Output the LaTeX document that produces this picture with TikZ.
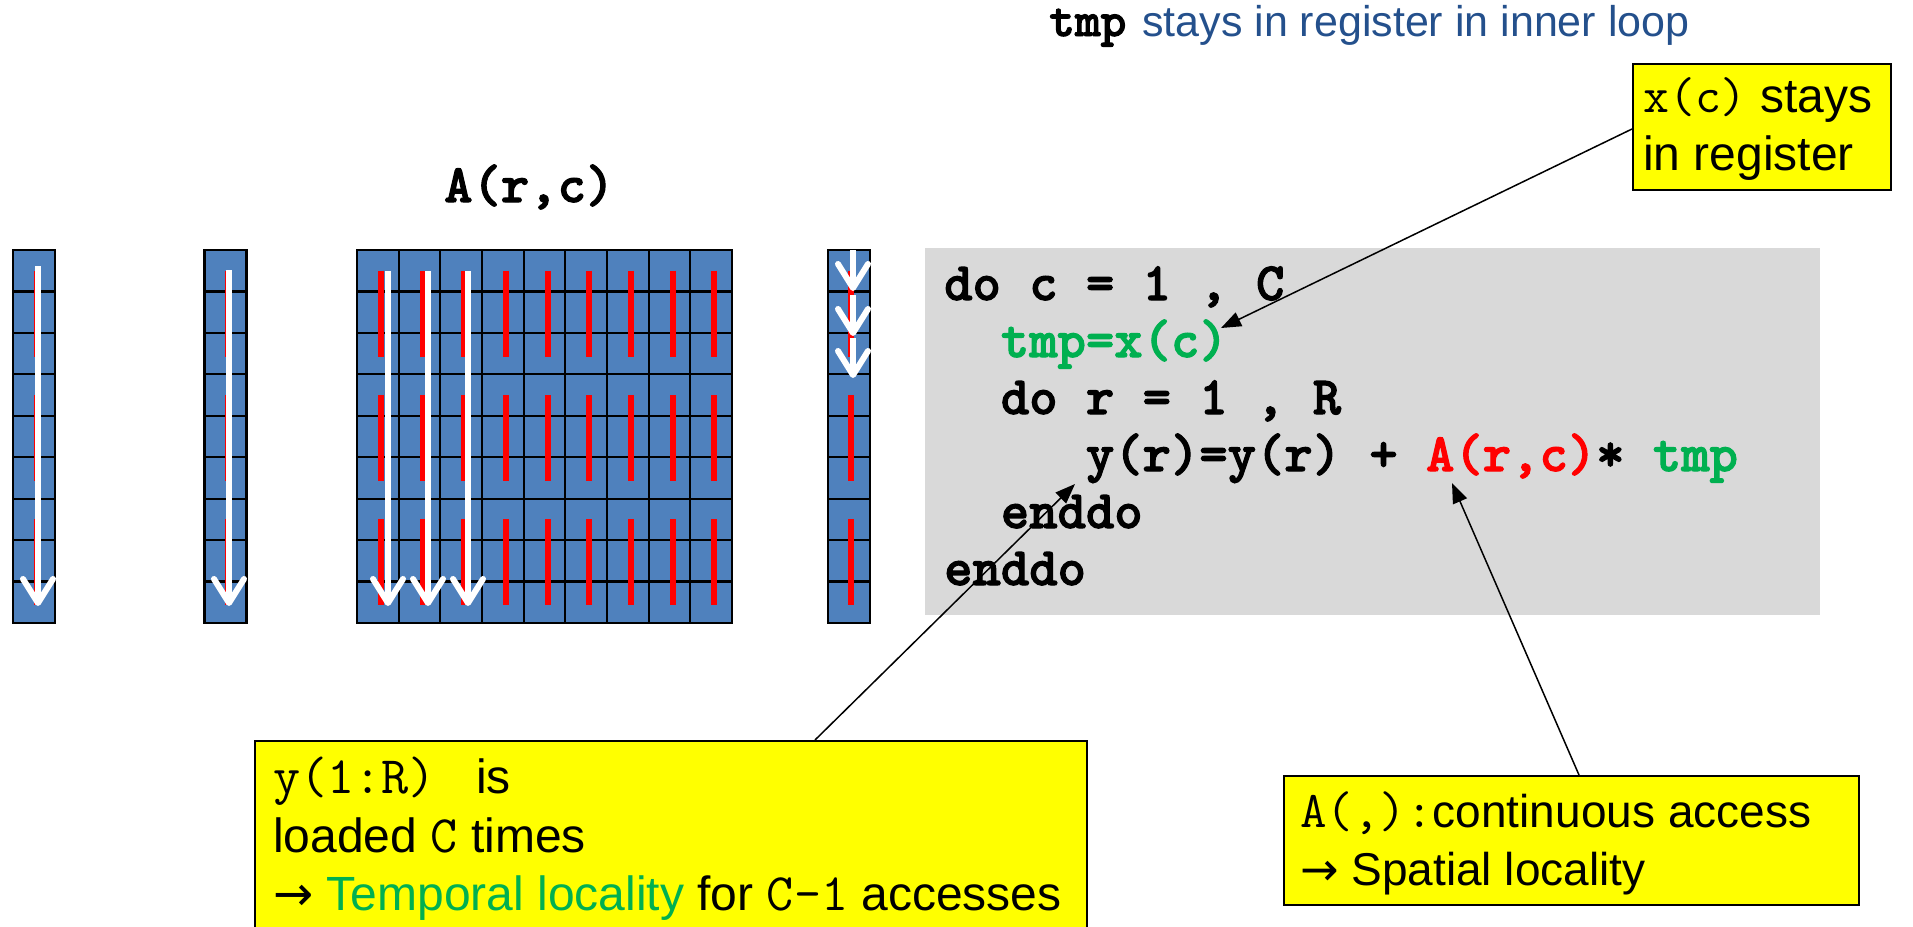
\documentclass[tikz,border=0pt]{standalone}
\usepackage{fontspec}
\setmainfont{Liberation Sans}
\newfontfamily\codeB{lmmonolt10-bold.otf}[FakeBold=2]
\newfontfamily\arrowF{DejaVu Sans}
\usetikzlibrary{arrows.meta,calc}
\definecolor{cellblue}{HTML}{4F81BD}
\definecolor{codegray}{HTML}{D9D9D9}
\definecolor{okgreen}{HTML}{00B050}
\definecolor{hlyellow}{HTML}{FFFF00}
\definecolor{titleblue}{HTML}{24508C}
\newcommand\codefont{\codeB\fontsize{54}{60}\selectfont}
\newcommand\calmono[2][52.6]{{\ttfamily\mdseries\fontsize{#1}{60}\selectfont #2}}
\newcommand\rarr{{\arrowF →}}
\frenchspacing
\begin{document}
\begin{tikzpicture}[x=1pt,y=-1pt,
  cell/.style={draw=black,line width=2.2pt,fill=cellblue},
  redseg/.style={draw=red,line width=6pt},
  whitearrow/.style={draw=white,line width=6pt,-{Straight Barb[length=24pt,width=30pt,round]}},
  callout/.style={draw=black,line width=1.5pt,fill=hlyellow,inner sep=0pt,anchor=north west},
  txt/.style={inner sep=0pt,anchor=base west,font=\fontsize{48}{56}\selectfont},
  code/.style={inner sep=0pt,anchor=base west,font=\codefont},
  conn/.style={draw=black,line width=1.5pt,-{Triangle[length=20pt,width=15pt]}}
]
\useasboundingbox (0,0) rectangle (1913,926);
\clip (0,0) rectangle (1913,926);

% ---- vectors and matrix ----
\foreach \r in {0,...,8} {
  \draw[cell] (13,{250+41.44*\r}) rectangle ++(42,41.44);
  \draw[cell] (204.5,{250+41.44*\r}) rectangle ++(42,41.44);
  \draw[cell] (828,{250+41.44*\r}) rectangle ++(42,41.44);
}
\foreach \c in {0,...,8} {
  \foreach \r in {0,...,8} {
    \draw[cell] ({357+41.67*\c},{250+41.44*\r}) rectangle ++(41.67,41.44);
  }
}
% red access segments
\foreach \cx in {37,228,851} {
  \foreach \k in {0,1,2} {
    \draw[redseg] (\cx,{250+41.44*(3*\k+0.5)}) -- (\cx,{250+41.44*(3*\k+2.5)+3});
  }
}
\foreach \c in {0,...,8} {
  \foreach \k in {0,1,2} {
    \draw[redseg] ({357+41.67*(\c+0.5)+3},{250+41.44*(3*\k+0.5)}) -- ({357+41.67*(\c+0.5)+3},{250+41.44*(3*\k+2.5)+3});
  }
}
% white traversal arrows
\draw[whitearrow] (38,266) -- (38,606);
\draw[whitearrow] (229,270) -- (229,606);
\draw[whitearrow] (388,271) -- (388,606);
\draw[whitearrow] (428,271) -- (428,606);
\draw[whitearrow] (468,271) -- (468,606);
\draw[whitearrow] (853,250) -- (853,291);
\draw[whitearrow] (853,295) -- (853,336);
\draw[whitearrow] (853,338) -- (853,378);

\node[code] (alab) at (444,202) {A(r,c)};

% ---- title ----
\node[inner sep=0pt,anchor=base west,font=\codeB\fontsize{49}{55}\selectfont] (tmpw) at (1049,36) {tmp};
\node[txt,text=titleblue,font=\fontsize{43}{50}\selectfont] (ttl) at (1142,36) {stays in register in inner loop};

% ---- code ----
\node[fill=codegray,minimum width=895pt,minimum height=367pt,anchor=north west,inner sep=0pt] (codebox) at (925,248) {};
\node[code] (l1) at (944,300) {do c = 1 , C};
\node[code,text=okgreen] (l2) at (1000.7,357) {tmp=x(c)};
\node[code] (l3) at (1000.7,414) {do r = 1 , R};
\node[code] (l4) at (1085.7,471) {y(r)=y(r) + \textcolor{red}{A(r,c)}* \textcolor{okgreen}{tmp}};
\node[code] (l5) at (1000.7,528) {enddo};
\node[code] (l6) at (944,585) {enddo};

% ---- callouts ----
\node[callout,minimum width=258pt,minimum height=126pt] (xbox) at (1632,63) {};
\node[txt] (xt1) at (1643,112) {\calmono[50.3]{x(c)} stays};
\node[txt] (xt2) at (1643,170) {in register};

\node[callout,minimum width=832pt,minimum height=200pt] (ybox) at (254,740) {};
\node[txt] (yt1) at (273,793) {\calmono{y(1:R) } is};
\node[txt] (yt2) at (273,852) {loaded \calmono{C} times};
\node[txt] (yt3) at (273,910) {\rarr\ \textcolor{okgreen}{Temporal locality} for \calmono{C-1} accesses};

\node[callout,minimum width=575pt,minimum height=129pt] (abox) at (1283,775) {};
\node[txt,font=\fontsize{46}{56}\selectfont] (at1) at (1300,827) {\calmono[51.5]{A(,):}continuous access};
\node[txt,font=\fontsize{46}{56}\selectfont] (at2) at (1300,885) {\rarr\ Spatial locality};

% ---- connectors ----
\coordinate (xtip) at (1221,328);
\coordinate (ytip) at (1075,484);
\coordinate (atip) at (1452,483);
\draw[conn] ([yshift=-66pt]xbox.north west) -- (xtip);
\draw[conn] ([xshift=561pt]ybox.north west) -- (ytip);
\draw[conn] ([xshift=296pt]abox.north west) -- (atip);
\end{tikzpicture}
\end{document}
